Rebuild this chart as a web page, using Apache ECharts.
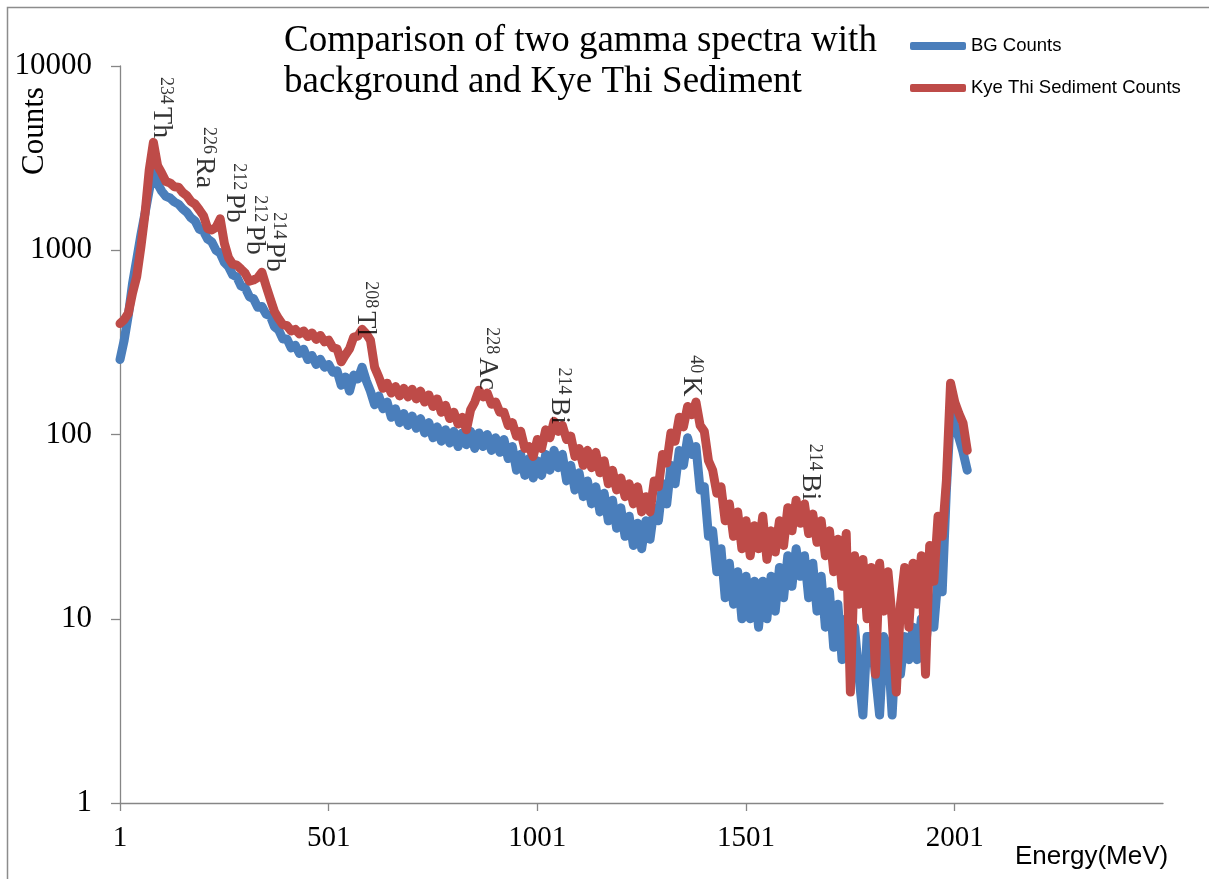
<!DOCTYPE html>
<html><head><meta charset="utf-8">
<script src="https://cdn.jsdelivr.net/npm/echarts@6/dist/echarts.min.js"></script>
<style>html,body{margin:0;padding:0;background:#fff}#c{width:1209px;height:879px}</style>
</head><body><div id="c"></div>
<script>
// channel spacing of the listed samples (channel = 1 + index*step)
const channelStep = 10;

const bgCounts = [
  255, 325, 445, 660, 890, 1210, 1590, 2120, 2790, 2300,
  2090, 1960, 1920, 1830, 1780, 1680, 1610, 1500, 1440, 1300,
  1270, 1150, 1110, 1000, 965, 860, 815, 735, 715, 640,
  625, 560, 545, 490, 495, 450, 440, 385, 370, 330,
  330, 295, 305, 275, 290, 255, 268, 240, 256, 232,
  240, 218, 222, 185, 205, 172, 210, 200, 232, 196,
  172, 145, 162, 138, 150, 124, 138, 116, 130, 112,
  126, 108, 122, 102, 116, 96, 110, 92, 106, 90,
  104, 86, 102, 88, 104, 84, 102, 86, 100, 82,
  96, 80, 94, 74, 86, 64, 78, 60, 74, 58,
  72, 60, 78, 64, 82, 66, 78, 56, 68, 50,
  62, 46, 56, 42, 52, 38, 48, 34, 44, 31,
  40, 28, 36, 25, 33, 24, 34, 27, 40, 34,
  54, 42, 68, 54, 82, 68, 96, 78, 86, 50,
  52, 28, 30, 18, 24, 13, 20, 12, 18, 10,
  17, 10, 16, 9, 16, 10, 17, 11, 19, 13,
  22, 15, 24, 17, 22, 13, 20, 11, 17, 9,
  14, 7, 12, 6, 10, 6, 9, 5, 3, 8,
  8, 5, 3, 8, 7, 3, 8, 5, 8, 6,
  9, 6, 10, 7, 12, 9, 17, 14, 50, 132,
  112, 96, 80, 64
];

const sedimentCounts = [
  400, 420, 455, 585, 720, 1040, 1580, 2720, 3850, 2880,
  2620, 2360, 2320, 2210, 2200, 2060, 1980, 1840, 1780, 1660,
  1540, 1310, 1290, 1330, 1480, 1090, 910, 840, 830, 790,
  750, 680, 690, 710, 760, 640, 545, 465, 425, 395,
  390, 365, 372, 352, 365, 340, 356, 328, 345, 318,
  325, 296, 292, 248, 270, 292, 338, 342, 372, 352,
  325, 232, 205, 178, 190, 168, 182, 162, 178, 160,
  176, 156, 172, 150, 164, 142, 156, 132, 144, 122,
  132, 114, 124, 106, 136, 150, 174, 160, 168, 146,
  150, 132, 132, 112, 116, 98, 104, 84, 86, 76,
  94, 84, 106, 96, 118, 104, 112, 94, 98, 76,
  84, 68, 82, 66, 80, 62, 72, 54, 64, 50,
  58, 46, 54, 42, 52, 38, 46, 38, 56, 52,
  78, 70, 102, 92, 124, 110, 142, 128, 150, 112,
  104, 72, 64, 48, 52, 34, 42, 28, 38, 24,
  34, 22, 32, 24, 36, 21, 30, 23, 34, 25,
  40, 30, 44, 33, 42, 29, 37, 26, 34, 22,
  30, 18, 27, 15, 29, 4, 22, 12, 21, 10,
  19, 5, 20, 11, 18, 10, 4, 12, 19, 9,
  20, 12, 22, 5, 25, 16, 36, 28, 56, 190,
  150, 130, 115, 82
];

const seriesNames = ['BG Counts', 'Kye Thi Sediment Counts'];
const xTickLabels = ['1', '501', '1001', '1501', '2001'];
const yTickValues = [1, 10, 100, 1000, 10000];

// peak annotations (mass number, element, channel offset, count level where the label starts)
const peakIsotopes = ['234', '226', '212', '212', '214', '208', '228', '214', '40', '214'];
const peakElements = ['Th', 'Ra', 'Pb', 'Pb', 'Pb', 'Tl', 'Ac', 'Bi', 'K', 'Bi'];
const peakChannels = [98, 201, 273, 323, 369, 589, 879, 1052, 1368, 1653];
const peakLabelCounts = [8710, 4660, 2970, 1990, 1610, 679, 382, 231, 269, 89];

const SERIF = '"Liberation Serif", "Times New Roman", serif';
const SANS = '"Liberation Sans", Arial, sans-serif';

const bgData = bgCounts.map((v, i) => [i * channelStep, v]);
const sedData = sedimentCounts.map((v, i) => [i * channelStep, v]);
const peakData = peakChannels.map((c, i) => [c, peakLabelCounts[i], peakIsotopes[i], peakElements[i]]);

const chart = echarts.init(document.getElementById('c'), null, { renderer: 'canvas' });
chart.setOption({
  animation: false,
  backgroundColor: '#ffffff',
  title: {
    text: 'Comparison of two gamma spectra with\nbackground and Kye Thi Sediment',
    left: 279, top: 16,
    textStyle: { fontFamily: SERIF, fontSize: 37, fontWeight: 'normal', color: '#000', lineHeight: 41 }
  },
  legend: {
    data: seriesNames,
    orient: 'vertical',
    left: 905, top: 30,
    itemWidth: 56, itemHeight: 8, itemGap: 20,
    icon: 'roundRect',
    textStyle: { fontFamily: SANS, fontSize: 18.5, color: '#000', lineHeight: 22 }
  },
  grid: { left: 120, top: 66, width: 1043, height: 737, outerBoundsMode: 'none', containLabel: false },
  xAxis: {
    type: 'value', min: 0, max: 2499, interval: 500,
    axisLine: { show: true, lineStyle: { color: '#868686', width: 1.3 } },
    axisTick: { show: true, length: 8, lineStyle: { color: '#868686', width: 1.3 } },
    splitLine: { show: false },
    axisLabel: {
      margin: 21, color: '#000', fontFamily: SERIF, fontSize: 29,
      formatter: v => (xTickLabels[v / 500] !== undefined ? xTickLabels[v / 500] : ''),
      showMaxLabel: false
    }
  },
  yAxis: {
    type: 'log', logBase: 10, min: yTickValues[0], max: yTickValues[yTickValues.length - 1],
    axisLine: { show: true, lineStyle: { color: '#868686', width: 1.3 } },
    axisTick: { show: true, length: 9, lineStyle: { color: '#868686', width: 1.3 } },
    splitLine: { show: false },
    axisLabel: { margin: 28, color: '#000', fontFamily: SERIF, fontSize: 31,
      formatter: v => String(Math.round(v)) }
  },
  series: [
    {
      name: seriesNames[0], type: 'line', data: bgData, showSymbol: false, symbol: 'none',
      color: '#4a7ebb',
      lineStyle: { width: 9, color: '#4a7ebb', cap: 'round', join: 'round' },
      z: 2
    },
    {
      name: seriesNames[1], type: 'line', data: sedData, showSymbol: false, symbol: 'none',
      color: '#be4b48',
      lineStyle: { width: 9, color: '#be4b48', cap: 'round', join: 'round' },
      z: 3
    },
    {
      name: 'peaks', type: 'scatter', data: peakData, symbolSize: 0, silent: true, z: 5,
      label: {
        show: true, position: 'inside', rotate: -90, align: 'left', verticalAlign: 'middle',
        formatter: p => '{s|' + p.data[2] + '}{m|' + p.data[3] + '}',
        rich: {
          s: { fontFamily: SERIF, fontSize: 18, color: '#000', verticalAlign: 'top', padding: [0, 3, 0, 0] },
          m: { fontFamily: SERIF, fontSize: 28, color: '#000' }
        }
      }
    }
  ],
  graphic: [
    { type: 'rect', shape: { x: 7.5, y: 7.5, width: 1400, height: 1000 },
      style: { fill: 'none', stroke: '#8c8c8c', lineWidth: 1.5 }, silent: true },
    { type: 'text', x: 35, y: 131, rotation: Math.PI / 2,
      style: { text: 'Counts', font: '31px ' + SERIF, fill: '#000', align: 'center', verticalAlign: 'middle' } },
    { type: 'text', x: 1015, y: 857,
      style: { text: 'Energy(MeV)', font: '26px ' + SANS, fill: '#000', align: 'left', verticalAlign: 'middle' } }
  ]
});
</script>
</body></html>
